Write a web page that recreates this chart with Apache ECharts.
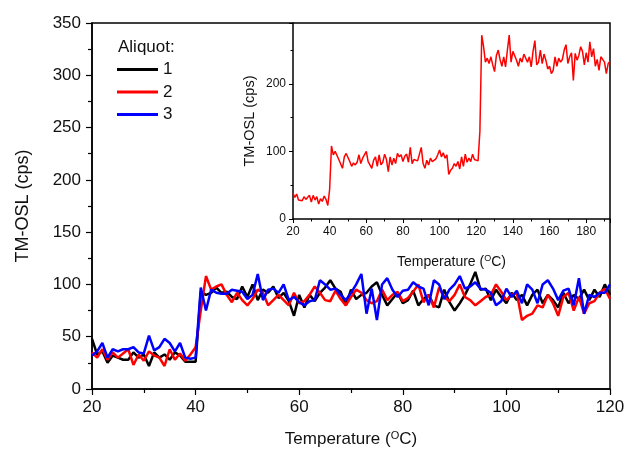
<!DOCTYPE html>
<html><head><meta charset="utf-8">
<script src="https://cdn.jsdelivr.net/npm/echarts@6/dist/echarts.min.js"></script>
<style>html,body{margin:0;padding:0;background:#fff}#c{width:638px;height:449px}</style>
</head><body><div id="c"></div>
<script>
// Main chart: temperature 20..120 °C, step 1
var mainTemps = [];
for (var t = 20; t <= 120; t++) mainTemps.push(t);
var aliquot1 = [48,33,36,25,32,30,28,28,35,30, 33,22,35,30,33,28,35,32,26,26,
 26,93,90,92,97,92,93,88,86,98, 88,100,85,95,92,98,87,92,84,70,
 90,78,90,84,92,97,104,96,93,80, 95,86,90,92,98,102,90,80,86,92,
 82,85,94,80,86,90,80,78,95,83, 75,82,90,100,112,95,96,85,95,88,
 82,92,85,90,80,90,95,82,90,85, 78,92,82,90,86,95,85,95,88,100, 90];
var aliquot2 = [35,30,38,28,35,30,34,38,23,33, 27,36,32,30,22,38,28,34,27,33,
 40,75,108,95,98,100,90,83,92,85, 80,86,95,92,80,85,90,85,80,92,
 82,84,90,98,92,85,84,94,86,80, 88,95,92,85,82,84,95,85,90,93,
 84,87,93,100,83,90,78,97,88,84, 90,100,88,85,80,84,88,90,100,93,
 85,90,92,66,70,72,80,78,90,82, 70,88,92,75,88,72,82,84,92,96, 86];
var aliquot3 = [32,36,44,30,38,36,38,38,40,35, 34,51,37,40,48,44,36,44,30,29,
 30,97,75,95,92,91,91,95,94,93, 86,90,110,85,95,96,92,100,85,88,
 83,80,84,85,104,100,95,96,90,85, 92,100,110,72,96,66,100,106,95,88,
 94,95,102,98,96,80,104,100,86,95, 100,108,96,98,102,96,95,92,80,84,
 96,88,94,82,100,95,82,100,104,96, 85,94,96,80,106,72,90,88,92,92, 100];

// Inset: aliquot 2, temperature 20..193 °C, step 1
var insetTemps = [];
for (var u = 20; u <= 193; u++) insetTemps.push(u);
var insetSignal = [38,32,37,28,30,27,33,29,30,35, 25,35,28,33,22,30,26,34,29,20,
 44,108,95,100,102,88,86,75,92,97, 95,85,78,83,80,84,95,82,90,88,
 100,85,80,75,87,92,78,95,80,84, 96,88,70,92,80,90,82,97,92,95,
 85,93,96,84,106,82,88,90,86,85, 106,82,75,87,80,90,85,86,89,95,
 102,92,98,90,95,66,72,75,82,78, 85,74,92,78,96,84,90,85,96,88,
 90,86,130,272,255,232,238,230,240,228, 218,242,250,236,226,240,225,250,272,232,
 248,250,235,226,238,232,244,245,232,240, 225,248,264,228,232,250,230,244,235,222,
 226,215,220,240,226,238,232,236,250,258, 230,240,246,205,245,235,242,255,248,228,
 246,232,262,240,252,226,236,220,240,238, 232,215,230,233];

var mainXTicks = {min: 20, max: 120, interval: 20};
var mainYTicks = {min: 0, max: 350, interval: 50};
var insetXTicks = {min: 20, max: 193, interval: 20};
var insetYTicks = {min: 0, max: 290, interval: 100};

function pairs(xs, ys) { return xs.map(function (x, i) { return [x, ys[i]]; }); }

var FONT = 'Liberation Sans';
var supRich = {
  n: {fontFamily: FONT, fontSize: 17, color: '#111'},
  sup: {fontFamily: FONT, fontSize: 11, color: '#111', verticalAlign: 'bottom', padding: [0, 0, 8, 0]}
};
var supRichSmall = {
  n: {fontFamily: FONT, fontSize: 14, color: '#111'},
  sup: {fontFamily: FONT, fontSize: 9, color: '#111', verticalAlign: 'bottom', padding: [0, 0, 7, 0]}
};

var chart = echarts.init(document.getElementById('c'), null, {renderer: 'canvas'});
var axisLine = {show: true, onZero: false, lineStyle: {color: '#000', width: 1.5}};
chart.setOption({
  animation: false,
  backgroundColor: '#fff',
  textStyle: {fontFamily: FONT},
  grid: [
    {left: 92, right: 28, top: 23, bottom: 60, show: true, borderColor: '#000', borderWidth: 1.5,
     backgroundColor: 'transparent', containLabel: false, outerBoundsMode: 'none'},
    {left: 293, right: 28, top: 23, bottom: 230, show: false, containLabel: false, outerBoundsMode: 'none'}
  ],
  graphic: [{type: 'text', left: 118, top: 39, style: {text: 'Aliquot:', fontFamily: FONT, fontSize: 17, fill: '#111'}}],
  legend: {
    data: ['1', '2', '3'], orient: 'vertical', left: 117, top: 61, padding: 0,
    icon: 'rect', itemWidth: 41, itemHeight: 3, itemGap: 5.5,
    textStyle: {fontFamily: FONT, fontSize: 17, color: '#111', padding: [0, 0, 0, 0], lineHeight: 16}
  },
  xAxis: [
    {gridIndex: 0, type: 'value', min: mainXTicks.min, max: mainXTicks.max, interval: mainXTicks.interval,
     axisLine: axisLine, axisTick: {length: 6, lineStyle: {color: '#000', width: 1.2}},
     minorTick: {show: true, splitNumber: 2, length: 4, lineStyle: {color: '#000', width: 1.2}},
     splitLine: {show: false},
     axisLabel: {fontFamily: FONT, fontSize: 17, color: '#111', margin: 10},
     name: '{n|Temperature (}{sup|O}{n|C)}', nameLocation: 'middle', nameGap: 41,
     nameTextStyle: {rich: supRich}},
    {gridIndex: 1, type: 'value', min: insetXTicks.min, max: insetXTicks.max, interval: insetXTicks.interval,
     axisLine: axisLine, axisTick: {length: 4, lineStyle: {color: '#000'}},
     minorTick: {show: true, splitNumber: 2, length: 2.5, lineStyle: {color: '#000'}},
     splitLine: {show: false},
     axisLabel: {fontFamily: FONT, fontSize: 12, color: '#111', margin: 7, showMaxLabel: false},
     name: '{n|Temperature (}{sup|O}{n|C)}', nameLocation: 'middle', nameGap: 35,
     nameTextStyle: {rich: supRichSmall}}
  ],
  yAxis: [
    {gridIndex: 0, type: 'value', min: mainYTicks.min, max: mainYTicks.max, interval: mainYTicks.interval,
     axisLine: axisLine, axisTick: {length: 6, lineStyle: {color: '#000', width: 1.2}},
     minorTick: {show: true, splitNumber: 2, length: 4, lineStyle: {color: '#000', width: 1.2}},
     splitLine: {show: false},
     axisLabel: {fontFamily: FONT, fontSize: 17, color: '#111', margin: 11},
     name: 'TM-OSL (cps)', nameLocation: 'middle', nameGap: 60,
     nameTextStyle: {fontFamily: FONT, fontSize: 18, color: '#111'}},
    {gridIndex: 1, type: 'value', min: insetYTicks.min, max: insetYTicks.max, interval: insetYTicks.interval,
     axisLine: axisLine, axisTick: {length: 4, lineStyle: {color: '#000'}},
     minorTick: {show: true, splitNumber: 2, length: 2.5, lineStyle: {color: '#000'}},
     splitLine: {show: false},
     axisLabel: {fontFamily: FONT, fontSize: 12, color: '#111', margin: 7, showMaxLabel: false},
     name: 'TM-OSL (cps)', nameLocation: 'middle', nameGap: 36,
     nameTextStyle: {fontFamily: FONT, fontSize: 14.5, color: '#111'}}
  ],
  series: [
    {name: '1', type: 'line', xAxisIndex: 0, yAxisIndex: 0, data: pairs(mainTemps, aliquot1), showSymbol: false,
     lineStyle: {color: '#000', width: 2.5}, itemStyle: {color: '#000'}, z: 3},
    {name: '2', type: 'line', xAxisIndex: 0, yAxisIndex: 0, data: pairs(mainTemps, aliquot2), showSymbol: false,
     lineStyle: {color: '#ff0000', width: 2.5}, itemStyle: {color: '#ff0000'}, z: 4},
    {name: '3', type: 'line', xAxisIndex: 0, yAxisIndex: 0, data: pairs(mainTemps, aliquot3), showSymbol: false,
     lineStyle: {color: '#0000ff', width: 2.5}, itemStyle: {color: '#0000ff'}, z: 5},
    {name: 'inset', type: 'line', xAxisIndex: 1, yAxisIndex: 1, data: pairs(insetTemps, insetSignal), showSymbol: false,
     lineStyle: {color: '#ff0000', width: 1.5}, itemStyle: {color: '#ff0000'}}
  ]
});
</script></body></html>
